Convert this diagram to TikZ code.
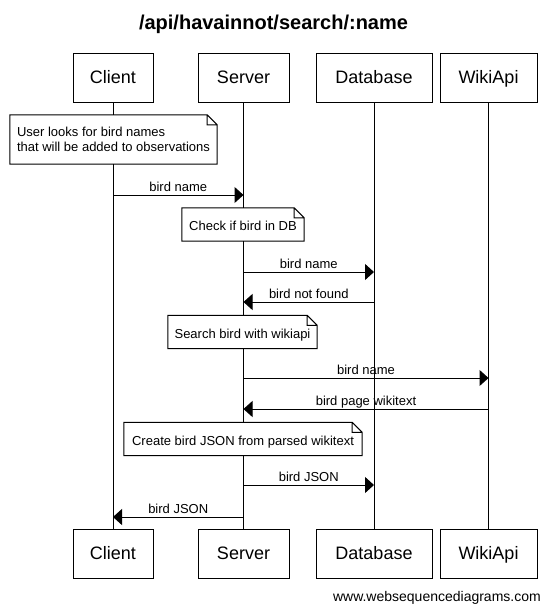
\documentclass[tikz,border=0pt]{standalone}
\usepackage{fontspec}
\setmainfont{Liberation Sans}
\usetikzlibrary{arrows.meta}
\newcommand\drawfold[1]{\draw[line width=1pt] (#1.south west) -- (#1.north west) -- ([xshift=-10pt]#1.north east) -- ([yshift=-10pt]#1.north east) -- (#1.south east) -- cycle ([xshift=-10pt]#1.north east) |- ([yshift=-10pt]#1.north east);}
\begin{document}
\begin{tikzpicture}[x=1pt,y=-1pt,
  actor/.style={draw, line width=1pt, minimum height=49pt, inner sep=0pt, font=\fontsize{18}{20}\selectfont, text height=12.9pt, text depth=0pt},
  notebox/.style={fill=white, inner sep=0pt, font=\fontsize{13}{15}\selectfont},
  onenote/.style={notebox, minimum height=33pt, text height=12pt, text depth=0pt},
  msg/.style={line width=1pt, -{Triangle[length=9pt,width=16pt]}},
  lbl/.style={anchor=base, inner sep=0pt, font=\fontsize{13}{15}\selectfont, yshift=4pt},
  life/.style={line width=1pt}]
\useasboundingbox (0,0) rectangle (550,613);
\node[anchor=base, inner sep=0pt, font=\bfseries\fontsize{20}{24}\selectfont] (title) at (273.5,29) {/api/havainnot/search/:name};
% participants
\node[actor, minimum width=80pt] (cT) at (113,77.5) {Client};
\node[actor, minimum width=91pt] (sT) at (243.5,77.5) {Server};
\node[actor, minimum width=116pt] (dT) at (374,77.5) {Database};
\node[actor, minimum width=97pt] (wT) at (488.5,77.5) {WikiApi};
\node[actor, minimum width=80pt] (cB) at (113,553.5) {Client};
\node[actor, minimum width=91pt] (sB) at (243.5,553.5) {Server};
\node[actor, minimum width=116pt] (dB) at (374,553.5) {Database};
\node[actor, minimum width=97pt] (wB) at (488.5,553.5) {WikiApi};
% lifelines
\draw[life] (cT) -- (cB);
\draw[life] (sT) -- (sB);
\draw[life] (dT) -- (dB);
\draw[life] (wT) -- (wB);
% notes
\node[notebox, minimum width=207pt, minimum height=49pt, align=left] (n1) at (113.5,139.5) {User looks for bird names\\that will be added to observations};
\drawfold{n1}
\node[onenote, minimum width=122pt] (n2) at (243,224.5) {Check if bird in DB};
\drawfold{n2}
\node[onenote, minimum width=149pt] (n3) at (242.5,332) {Search bird with wikiapi};
\drawfold{n3}
\node[onenote, minimum width=238pt] (n4) at (243,439) {Create bird JSON from parsed wikitext};
\drawfold{n4}
% message endpoints
\coordinate (m1a) at (113,195);   \coordinate (m1b) at (243.5,195);
\coordinate (m2a) at (243.5,272); \coordinate (m2b) at (374,272);
\coordinate (m3a) at (374,302);   \coordinate (m3b) at (243.5,302);
\coordinate (m4a) at (243.5,378); \coordinate (m4b) at (488.5,378);
\coordinate (m5a) at (488.5,409); \coordinate (m5b) at (243.5,409);
\coordinate (m6a) at (243.5,485); \coordinate (m6b) at (374,485);
\coordinate (m7a) at (243.5,517); \coordinate (m7b) at (113,517);
% messages
\draw[msg] (m1a) -- node[lbl] {bird name} (m1b);
\draw[msg] (m2a) -- node[lbl] {bird name} (m2b);
\draw[msg] (m3a) -- node[lbl] {bird not found} (m3b);
\draw[msg] (m4a) -- node[lbl] {bird name} (m4b);
\draw[msg] (m5a) -- node[lbl] {bird page wikitext} (m5b);
\draw[msg] (m6a) -- node[lbl] {bird JSON} (m6b);
\draw[msg] (m7a) -- node[lbl] {bird JSON} (m7b);
% footer
\node[anchor=base east, inner sep=0pt, font=\fontsize{14}{16}\selectfont] (foot) at (541,601.5) {www.websequencediagrams.com};
\end{tikzpicture}
\end{document}
